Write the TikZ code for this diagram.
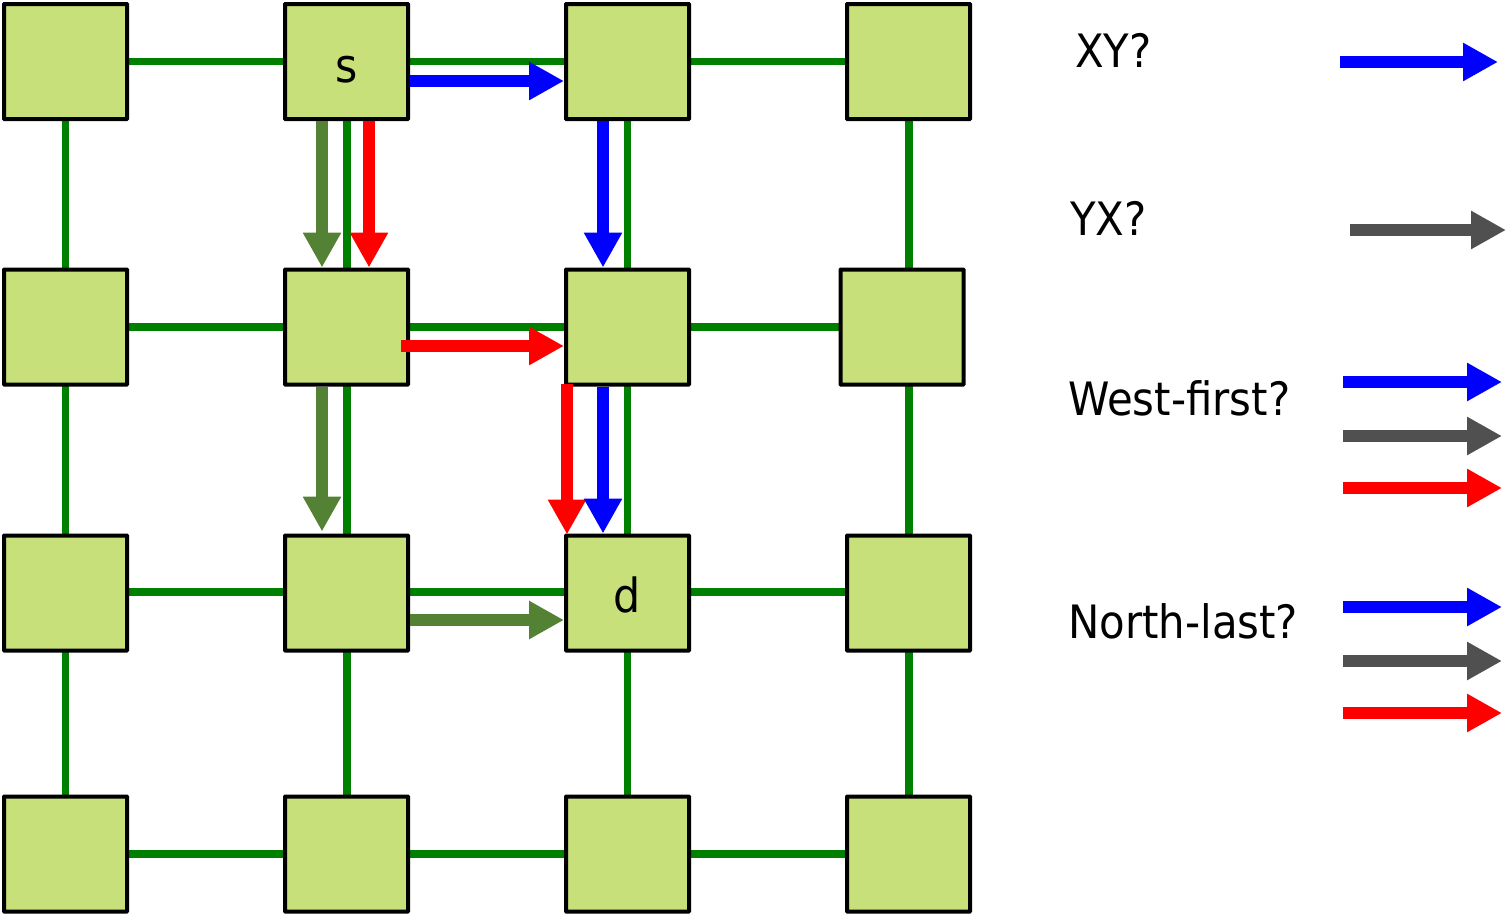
\documentclass[tikz,border=0pt]{standalone}
\usepackage{fontspec}
\setmainfont{DejaVu Sans}[FakeStretch=0.91]
\usetikzlibrary{arrows.meta,calc}
\definecolor{boxfill}{RGB}{199,224,122}
\definecolor{linkgreen}{RGB}{0,128,0}
\definecolor{olive}{RGB}{84,130,53}
\definecolor{darkgray}{RGB}{80,80,80}
\tikzset{
  router/.style={draw=black, line width=4pt, fill=boxfill, minimum width=123pt, minimum height=115pt, inner sep=0pt, rounded corners=0.5pt},
  link/.style={draw=linkgreen, line width=7.5pt},
  route/.style={line width=12.5pt, -{Triangle[length=35pt,width=36pt]}},
  lbl/.style={anchor=base west, inner sep=0pt, font=\fontsize{46pt}{50pt}\selectfont},
  boxlbl/.style={anchor=base, inner sep=0pt, font=\fontsize{47pt}{50pt}\selectfont},
}
\begin{document}
\begin{tikzpicture}[x=1pt,y=-1pt]
\useasboundingbox (0,0) rectangle (1506,916);
% link positions
\coordinate (c11) at (65.5,61.5);  \coordinate (c12) at (347,61.5);  \coordinate (c13) at (627.5,61.5);  \coordinate (c14) at (909,61.5);
\coordinate (c21) at (65.5,327);   \coordinate (c22) at (347,327);   \coordinate (c23) at (627.5,327);   \coordinate (c24) at (909,327);
\coordinate (c31) at (65.5,592);   \coordinate (c32) at (347,592);   \coordinate (c33) at (627.5,592);   \coordinate (c34) at (909,592);
\coordinate (c41) at (65.5,854);   \coordinate (c42) at (347,854);   \coordinate (c43) at (627.5,854);   \coordinate (c44) at (909,854);
% links
\foreach \r in {1,2,3,4}{
  \draw[link] (c\r1) -- (c\r2) -- (c\r3) -- (c\r4);
  \draw[link] (c1\r) -- (c2\r) -- (c3\r) -- (c4\r);
}
% routers
\node[router] (n11) at (65.5,61.5) {};
\node[router] (n12) at (346.5,61.5) {};
\node[router] (n13) at (627.5,61.5) {};
\node[router] (n14) at (908.5,61.5) {};
\node[router] (n21) at (65.5,327) {};
\node[router] (n22) at (346.5,327) {};
\node[router] (n23) at (627.5,327) {};
\node[router] (n24) at (902,327) {};
\node[router] (n31) at (65.5,593) {};
\node[router] (n32) at (346.5,593) {};
\node[router] (n33) at (627.5,593) {};
\node[router] (n34) at (908.5,593) {};
\node[router] (n41) at (65.5,854) {};
\node[router] (n42) at (346.5,854) {};
\node[router] (n43) at (627.5,854) {};
\node[router] (n44) at (908.5,854) {};
\node[boxlbl] (slbl) at (347,82) {s};
\node[boxlbl] (dlbl) at (627.5,612) {d};
% routes
\draw[route, blue] ($(n12.east)+(0,19.5)$) -- ($(n13.west)+(0,19.5)$);
\draw[route, olive] ($(n12.south)+(-24.5,0)$) -- ($(n22.north)+(-24.5,0)$);
\draw[route, red] ($(n12.south)+(22.5,0)$) -- ($(n22.north)+(22.5,0)$);
\draw[route, blue] ($(n13.south)+(-24.5,0)$) -- ($(n23.north)+(-24.5,0)$);
\draw[route, red] ($(n22.east)+(-9,19)$) -- ($(n23.west)+(0,19)$);
\draw[route, olive] ($(n22.south)+(-24.5,0)$) -- ($(n32.north)+(-24.5,-2)$);
\draw[route, red] ($(n23.south)+(-60.5,-3)$) -- ($(n33.north)+(-60.5,1)$);
\draw[route, blue] ($(n23.south)+(-24.5,0)$) -- ($(n33.north)+(-24.5,0)$);
\draw[route, olive] ($(n32.east)+(0,27)$) -- ($(n33.west)+(0,27)$);
% legend
\node[lbl] (xy) at (1075,67) {XY?};
\node[lbl] (yx) at (1070,235) {YX?};
\node[lbl] (wf) at (1068,415) {West-first?};
\node[lbl] (nl) at (1068,638) {North-last?};
\coordinate (xya) at (1340,62);  \coordinate (xyb) at (1498,62);
\coordinate (yxa) at (1350,230); \coordinate (yxb) at (1506,230);
\coordinate (wf1a) at (1343,382); \coordinate (wf1b) at (1502,382);
\coordinate (wf2a) at (1343,436); \coordinate (wf2b) at (1502,436);
\coordinate (wf3a) at (1343,488); \coordinate (wf3b) at (1502,488);
\coordinate (nl1a) at (1343,607); \coordinate (nl1b) at (1502,607);
\coordinate (nl2a) at (1343,661); \coordinate (nl2b) at (1502,661);
\coordinate (nl3a) at (1343,713); \coordinate (nl3b) at (1502,713);
\draw[route, blue] (xya) -- (xyb);
\draw[route, darkgray] (yxa) -- (yxb);
\draw[route, blue] (wf1a) -- (wf1b);
\draw[route, darkgray] (wf2a) -- (wf2b);
\draw[route, red] (wf3a) -- (wf3b);
\draw[route, blue] (nl1a) -- (nl1b);
\draw[route, darkgray] (nl2a) -- (nl2b);
\draw[route, red] (nl3a) -- (nl3b);
\end{tikzpicture}
\end{document}
